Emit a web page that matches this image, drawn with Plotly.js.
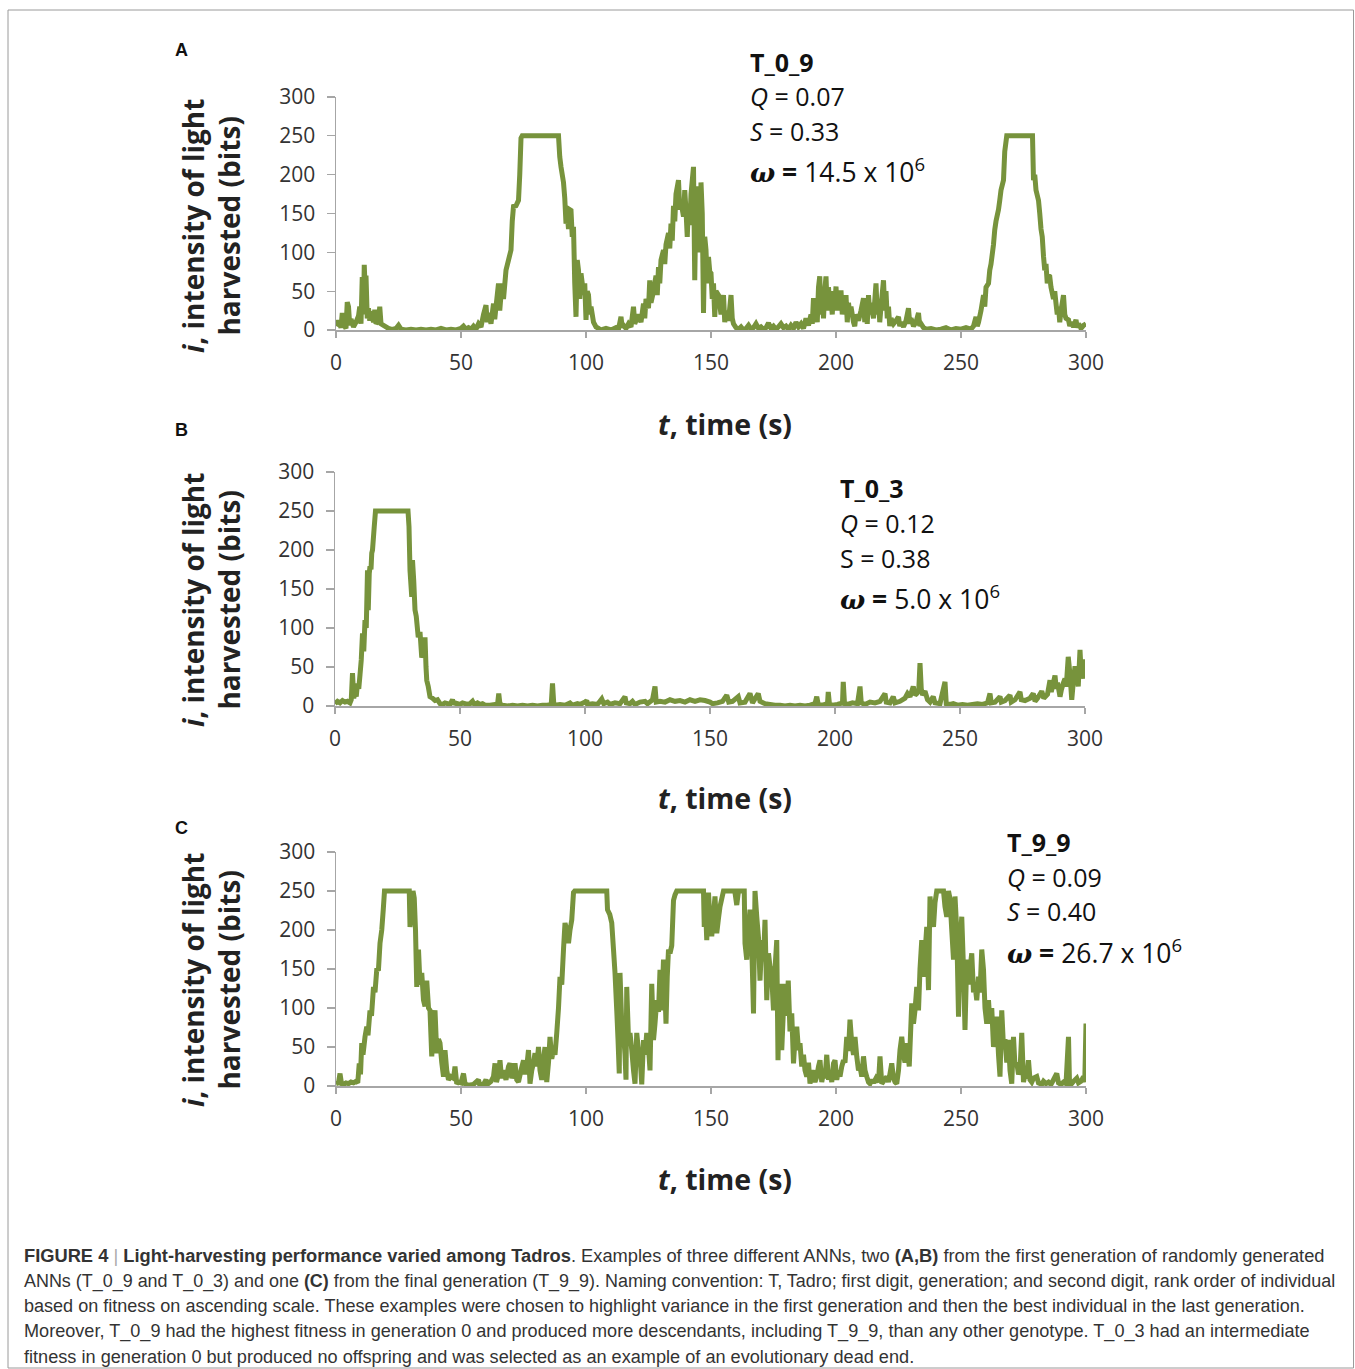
<!DOCTYPE html>
<html>
<head>
<meta charset="utf-8">
<script src="https://cdn.plot.ly/plotly-3.0.1.min.js"></script>
<style>html,body{margin:0;padding:0;background:#fff;}#chart{width:1355px;height:1369px;}</style>
</head>
<body>
<div id="chart"></div>
<script>
// ---------- DATA ----------
// Panel A: T_0_9
const tA = [0,1,2,2.5,3,4,4.5,5,5.5,6,7,8,9,9.5,10,10.5,11,11.3,11.8,12,12.5,13,13.5,14,15,15.5,16,17,17.5,18,19,20,21,22,23,24,25,26,28,30,32,34,36,38,40,42,44,46,48,50,51,52,53,54,55,56,57,58,59,60,60.5,61,62,63,63.5,64,65,65.5,66,66.5,67,68,69,70,70.5,71,72,73,73.5,74,74.5,89,89.5,90,91,91.5,92,92.5,93,93.5,94,94.5,95,95.5,96,96.5,97,97.5,98,98.5,99,99.5,100,100.5,101,101.5,102,103,104,105,106,108,110,112,113,114,114.5,115,116,117,118,119,119.5,120,121,122,123,123.5,124,125,125.5,126,127,128,128.5,129,129.5,130,131,131.5,132,133,133.5,134,134.5,135,135.5,136,137,137.5,138,139,139.5,140,140.5,141,141.5,142,143,143.5,144,144.5,145,145.5,146,146.5,147,147.5,148,148.5,149,149.5,150,150.5,151,151.5,152,153,154,155,155.5,156,157,158,158.5,159,160,161,162,163,164,165,166,167,168,169,170,171,172,173,174,175,176,177,178,179,180,181,182,183,184,185,186,187,188,189,190,190.5,191,191.5,192,192.5,193,193.5,194,194.5,195,195.5,196,196.5,197,197.5,198,198.5,199,199.5,200,200.5,201,201.5,202,202.5,203,203.5,204,204.5,205,205.5,206,207,207.5,208,209,210,211,211.5,212,212.5,213,213.5,214,215,216,216.5,217,217.5,218,219,219.5,220,220.5,221,221.5,222,223,224,225,225.5,226,227,228,229,229.5,230,231,232,233,233.5,234,235,236,238,240,242,244,246,248,250,252,254,255,256,256.5,257,258,259,259.5,260,261,261.5,262,263,263.5,264,265,265.5,266,267,267.5,268.3,278.6,279,279.5,280,281,281.5,282,282.5,283,283.5,284,284.5,285,285.5,286,287,287.5,288,288.5,289,289.5,290,291,291.5,292,293,293.5,294,295,296,296.5,297,298,299,300];
const vA = [5,12,3,22,8,2,36,30,6,14,4,10,18,30,8,68,20,84,40,70,15,28,12,24,10,26,8,12,30,8,6,4,2,1,1,2,6,1,0,1,0,1,0,1,0,2,0,1,0,2,5,1,3,1,5,1,8,4,20,32,10,22,8,34,14,30,60,25,45,60,40,77,90,103,140,159,160,167,200,247,250,250,223,210,190,170,137,150,130,155,154,120,133,60,17,90,77,40,73,60,45,60,13,50,45,20,30,10,4,2,0,2,0,3,1,17,3,6,2,8,4,30,8,12,20,10,34,15,40,28,64,35,50,70,45,81,60,90,103,85,110,125,105,137,115,160,140,175,193,155,165,146,180,154,120,160,135,175,210,64,170,140,185,100,190,150,22,120,103,60,94,75,73,40,60,17,50,45,20,45,10,25,12,45,15,8,3,1,4,0,2,6,1,3,8,2,4,1,3,9,2,5,1,4,8,3,5,1,6,2,10,4,8,2,15,6,20,8,41,15,30,10,55,69,20,45,15,50,69,25,55,30,41,20,50,30,56,25,45,35,51,20,40,25,45,10,35,20,30,10,5,20,12,25,41,10,30,8,45,20,35,15,60,20,40,10,30,64,25,50,15,30,5,15,8,12,17,5,10,4,12,28,8,15,5,10,22,5,8,3,1,2,0,1,3,0,2,1,3,1,5,17,5,10,25,45,30,55,60,77,85,110,129,140,155,167,180,193,230,250,250,193,200,180,167,150,130,120,95,77,85,60,70,69,55,40,50,34,20,30,10,25,45,20,15,13,5,10,4,13,3,8,2,6,8];

// Panel B: T_0_3
const tB = [0,1,2,3,4,5,6,6.5,7,7.5,8,8.5,9,9.5,10,10.5,11,11.5,12,12.5,13,13.3,13.7,14,14.4,14.7,15,15.7,16.2,29.2,29.6,30,30.7,31,31.5,32,32.5,33.3,34,34.7,35.3,36,36.4,36.7,37.3,38,39,40,41,42,43,44,45,46,47,47.5,48,49,50,51,52,53,54,55,55.5,56,57,58,59,60,62,64,65,65.5,66,67,69,71,73,75,77,79,81,83,85,86.5,87,87.5,88,90,92,94,95,97,98,100,100.7,101,103,105,106.7,107.5,109,110,112,114,116,116.5,118,119,120,122,124,125,127,128,128.5,130,132,134,136,138,140,142,144,146,148,150,151,153,155,156.7,157.5,159,161.3,162,164,166,167,169.3,170,172,174,176,178,180,182,184,186,188,190,192,192.7,193.3,195,197,197.3,197.8,199,201,203,203.3,203.8,205,207,209,210,210.5,212,214,216,218,220,220.5,222,223.3,224,226,228,229,230,231.3,232,232.7,233.5,234,234.5,235,236,237,238,239.3,240,242,244,244.5,246,247.3,249,251,253,255,257,259,261,262,262.5,264,266,266.5,268,270,270.5,272,274,274.5,276,278,279.3,280,281,282.7,283.5,285,286,286.5,287,288,288.5,289,290,290.5,291.3,292,292.5,293.3,294,294.7,295.3,296,296.5,296.7,297.3,298,298.5,299,299.5,300];
const vB = [3,6,4,7,5,6,4,8,42,10,18,12,29,22,40,59,93,70,110,100,174,123,170,179,175,196,200,230,250,250,230,174,140,187,160,123,115,88,95,62,70,88,50,33,25,12,10,7,8,3,2,4,3,2,8,2,4,3,2,4,3,2,3,6,3,2,4,2,3,1,1,2,2,16,2,1,0,1,0,1,0,1,0,1,1,2,29,3,1,2,1,4,1,3,2,5,7,2,3,2,9,3,5,2,4,3,12,4,3,6,2,5,6,3,8,25,5,6,5,8,6,7,5,8,6,8,7,5,3,4,6,14,5,6,12,4,5,16,4,16,6,3,2,1,1,0,1,0,1,0,1,3,12,2,1,3,18,2,1,2,4,31,3,2,4,3,25,4,2,5,4,6,16,5,4,12,4,6,10,16,12,25,14,16,20,55,22,14,19,8,5,12,4,3,31,3,2,3,1,2,1,2,3,2,4,16,4,5,12,5,7,14,5,8,18,8,7,10,16,6,10,19,10,15,33,18,25,39,22,30,12,20,29,35,25,63,40,8,30,51,30,45,25,72,40,55,35,60];

// Panel C: T_9_9
const tC = [0,1,1.6,2.2,3,4,5,6,7,8,8.7,9.3,9.8,10.3,10.8,11.6,12.3,12.8,13.6,14.2,15,15.6,16.3,17,17.6,18.3,18.9,19.4,29.3,29.6,30.2,30.8,31.3,31.8,32.3,33,33.6,34.3,35,35.6,36.3,37,37.6,38.3,39,39.6,40.3,41,41.6,42.3,43,43.6,44.3,45,46,47,47.6,48.3,49,50,51,51.6,53,55,57,57.5,59,60,60.5,62,63,63.6,64.2,65,65.6,66.2,67,68,69,69.6,70.3,71,71.6,72.3,73,74,75,75.6,76.3,77,77.6,78.3,79,79.6,80.3,81,81.6,82.3,83,83.6,84.3,85,85.6,86.3,87,87.6,88.3,89,89.6,90.3,91,91.6,92.3,93,93.6,94.3,95,95.5,108.3,108.6,109.5,110.3,111,111.6,112.3,112.8,113.3,113.6,114.3,115,115.6,116,116.3,117,117.6,118.3,119,119.6,120.3,121,121.6,122.3,123,123.6,124.3,125,125.6,126.3,127,127.6,128.3,129,129.6,130.3,131,131.6,132,132.5,133,133.6,134.3,135,135.6,136.3,147,147.3,147.8,148.3,149,149.6,150.3,151,151.6,152.3,153,153.6,154.3,155,159.5,160.3,161,163.3,163.6,164.3,165,165.6,166.3,167,167.6,168.3,169,169.6,170.3,171,171.6,172.3,173,173.6,174.3,175,175.6,176.3,176.8,177.3,177.6,178.3,179,179.6,180.3,180.9,181.6,182.3,183,183.6,184.3,185,185.6,186.3,187,187.6,188.3,189,189.6,190.3,191,191.6,192.3,193,193.6,194.3,195,195.6,196.3,197,197.6,198.3,199,199.6,200.3,201,201.6,202.3,203,203.6,204.3,205,205.6,206.3,207,207.6,208.3,209,209.6,210.3,211,211.6,212.3,213,213.6,214.3,215,216,217,217.6,218.3,219,220.3,221,222.3,223,223.6,224.3,225,225.6,226.3,227,227.6,228.3,228.8,229.3,230.3,231,231.6,232.3,233,233.6,234.3,235,235.6,236.3,237,237.6,238.3,239,239.6,240.3,243,243.6,244.3,245,245.6,246.3,247,247.6,248.3,249,249.6,250.3,251,251.6,252.3,253,253.6,254.3,255,255.6,256.3,257,257.6,258.3,259,259.6,260.3,261,261.6,262.3,263,263.6,264.3,265,265.6,266.3,267,267.6,268.3,269,269.6,270.3,271,271.6,272.3,273,273.6,274.3,275,275.6,276.3,277,277.6,278.3,279,280.3,281,282.3,283,284,285,286,287,288.3,289,290,291,292,293,293.4,294,295,296.3,297,298,299,299.5,300];
const vC = [3,4,16,3,2,4,3,5,4,6,4,29,15,55,40,63,76,65,97,90,127,120,149,150,183,200,226,250,250,204,220,250,241,200,127,175,130,145,110,102,135,100,97,38,80,97,42,60,55,30,12,46,20,8,12,10,25,3,5,4,16,3,1,2,8,1,2,8,2,6,12,29,5,15,33,10,20,8,25,29,10,18,29,8,5,20,33,15,25,46,3,20,30,42,25,50,20,8,35,50,5,30,63,35,46,40,68,100,140,130,175,209,200,183,200,213,248,250,250,226,220,209,175,145,97,60,16,145,80,68,40,8,127,60,68,46,20,3,68,45,38,2,59,40,68,50,20,131,59,80,110,95,149,97,162,120,80,140,175,170,180,238,245,250,250,204,230,187,248,210,192,220,243,196,215,230,240,250,250,232,250,250,183,162,200,226,180,93,250,217,190,135,187,160,213,110,170,153,140,97,150,187,33,120,131,46,100,131,90,135,70,93,29,60,76,46,55,25,40,20,12,30,3,15,20,5,12,25,33,5,18,10,40,8,20,5,29,33,8,20,12,25,33,30,63,45,85,55,40,63,38,20,25,12,38,20,12,5,3,8,4,10,5,38,3,6,12,5,29,10,5,3,20,46,63,40,30,55,40,25,106,80,97,127,97,150,187,140,170,204,123,243,220,204,235,250,250,230,217,250,240,200,162,243,200,89,180,217,150,72,162,130,150,170,120,130,110,140,120,175,149,100,80,110,80,100,50,70,89,40,12,97,50,60,30,59,20,3,63,25,30,15,20,68,5,15,10,33,8,5,10,12,4,2,6,3,5,2,8,16,4,2,5,3,63,3,2,6,10,4,6,12,5,80];

const xTicks = [0,50,100,150,200,250,300];
const yTicks = [0,50,100,150,200,250,300];
const panelLetters = ["A","B","C"];
const seriesNames = ["T_0_9","T_0_3","T_9_9"];
const qValues = ["0.07","0.12","0.09"];
const sValues = ["0.33","0.38","0.40"];
const omegaValues = ["14.5","5.0","26.7"];

// ---------- LAYOUT HELPERS ----------
const W = 1355, H = 1369;
const px = x => x / W;
const py = y => 1 - y / H;
const GREEN = '#77933C';
const AXC = '#A6A6A6';
const FONT = 'Open Sans, Noto Sans, sans-serif';

// pixel geometry of each panel: [x0, x1, yTop, yBottom]
const boxes = [[336,1086,97,330],[335,1085,472,706],[336,1086,852,1086]];
const statPos = [[748,[62,96,131,171]],[838,[488,523,558,597]],[1005,[842,877,911,951]]];
const xtitleY = [424,798,1179];
const ytitleY = [226,600,980];
const letterY = [50,430,828];
const sItalic = [true,false,true];

const data = [[tA,vA],[tB,vB],[tC,vC]].map((s,i)=>({
  x: s[0], y: s[1], type:'scatter', mode:'lines',
  xaxis: i===0?'x':'x'+(i+1), yaxis: i===0?'y':'y'+(i+1),
  line:{color:GREEN, width:5, simplify:false},
  hoverinfo:'skip', name: seriesNames[i]
}));

const layout = {
  width: W, height: H, margin:{l:0,r:0,t:0,b:0},
  paper_bgcolor:'#fff', plot_bgcolor:'rgba(0,0,0,0)',
  showlegend:false, font:{family:FONT, color:'#222'},
  annotations:[], shapes:[]
};

boxes.forEach((b,i)=>{
  const sx = i===0?'':String(i+1);
  layout['xaxis'+sx] = {
    domain:[px(b[0]),px(b[1])], anchor:'y'+sx, range:[0,300], tickvals:xTicks,
    ticks:'outside', ticklen:6, tickwidth:1.3, tickcolor:AXC,
    showline:true, linecolor:AXC, linewidth:1.5, showgrid:false, zeroline:false,
    tickfont:{family:FONT, size:21, color:'#333'}, ticklabelstandoff:7, fixedrange:true
  };
  layout['yaxis'+sx] = {
    domain:[py(b[3]),py(b[2])], anchor:'x'+sx, range:[0,300], tickvals:yTicks,
    ticks:'outside', ticklen:8, tickwidth:1.3, tickcolor:AXC,
    showline:true, linecolor:AXC, linewidth:1.5, showgrid:false, zeroline:false,
    tickfont:{family:FONT, size:21, color:'#333'}, ticklabelstandoff:7, fixedrange:true
  };
  // axis titles
  layout.annotations.push({xref:'paper',yref:'paper',x:px(725),y:py(xtitleY[i]),xanchor:'center',yanchor:'middle',showarrow:false,
    text:'<b><i>t</i>, time (s)</b>', font:{family:FONT,size:28.5,color:'#222'}});
  layout.annotations.push({xref:'paper',yref:'paper',x:px(211),y:py(ytitleY[i]),xanchor:'center',yanchor:'middle',showarrow:false,textangle:-90,
    text:'<b><i>i</i>, intensity of light<br>harvested (bits)</b>', font:{family:FONT,size:28,color:'#222'}});
  // panel letter
  layout.annotations.push({xref:'paper',yref:'paper',x:px(181),y:py(letterY[i]),xanchor:'center',yanchor:'middle',showarrow:false,
    text:'<b>'+panelLetters[i]+'</b>', font:{family:'Liberation Sans, Arial, sans-serif',size:18,color:'#111'}});
  // stats block
  const sp = statPos[i];
  const lines = [
    '<b>'+seriesNames[i]+'</b>',
    '<i>Q</i> = '+qValues[i],
    (sItalic[i]?'<i>S</i>':'S')+' = '+sValues[i],
    '<span style="font-family:DejaVu Serif,serif"><b><i>ω</i></b></span><b> =</b> '+omegaValues[i]+' x 10<sup>6</sup>'
  ];
  const sizes = [25,25,25,26.5];
  lines.forEach((t,k)=>{
    layout.annotations.push({xref:'paper',yref:'paper',x:px(sp[0]),y:py(sp[1][k]),xanchor:'left',yanchor:'middle',showarrow:false,
      text:t, font:{family:FONT,size:sizes[k],color:'#111'}});
  });
});

// caption
const captionLines = [
  '<b>FIGURE 4</b> <span style="color:#aaa">|</span> <b>Light-harvesting performance varied among Tadros</b>. Examples of three different ANNs, two <b>(A,B)</b> from the first generation of randomly generated',
  'ANNs (T_0_9 and T_0_3) and one <b>(C)</b> from the final generation (T_9_9). Naming convention: T, Tadro; first digit, generation; and second digit, rank order of individual',
  'based on fitness on ascending scale. These examples were chosen to highlight variance in the first generation and then the best individual in the last generation.',
  'Moreover, T_0_9 had the highest fitness in generation 0 and produced more descendants, including T_9_9, than any other genotype. T_0_3 had an intermediate',
  'fitness in generation 0 but produced no offspring and was selected as an example of an evolutionary dead end.'
];
const capY = [1255,1281,1306,1331,1357];
const capSize = [18.3,17.95,18.05,18.1,18.15];
captionLines.forEach((t,k)=>{
  layout.annotations.push({xref:'paper',yref:'paper',x:px(22),y:py(capY[k]),xanchor:'left',yanchor:'middle',showarrow:false,
    text:t, font:{family:'Liberation Sans Narrow, Arial Narrow, Liberation Sans, sans-serif',size:capSize[k],color:'#333'}});
});

// outer frame
layout.shapes.push({type:'rect',xref:'paper',yref:'paper',x0:px(8),x1:px(1353.5),y0:py(1368),y1:py(10),
  line:{color:'#9a9a9a',width:1},fillcolor:'rgba(0,0,0,0)'});

Plotly.newPlot('chart', data, layout, {displayModeBar:false, staticPlot:true});
</script>
</body>
</html>
